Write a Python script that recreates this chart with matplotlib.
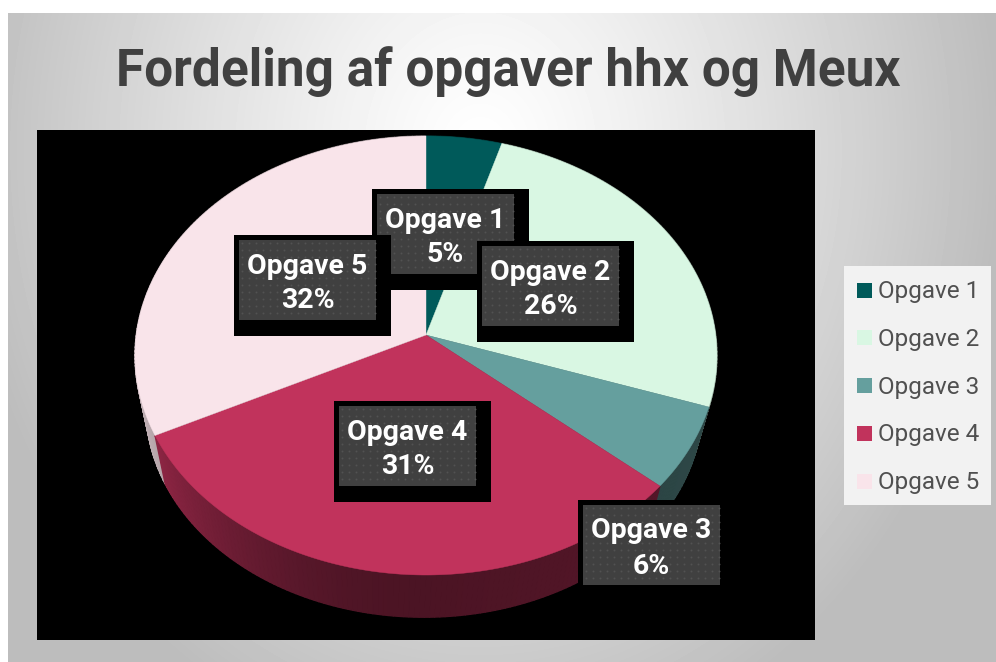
import matplotlib
matplotlib.use("Agg")
import matplotlib.pyplot as plt
import numpy as np
from matplotlib.patches import Polygon, Rectangle

plt.rcParams["font.family"] = ["Roboto", "Noto Sans", "DejaVu Sans"]

W, H = 996, 662

title = "Fordeling af opgaver hhx og Meux"
categories = ["Opgave 1", "Opgave 2", "Opgave 3", "Opgave 4", "Opgave 5"]
values = [4.6, 25.6, 6.1, 31.4, 32.3]
percent_labels = ["5%", "26%", "6%", "31%", "32%"]
colors = ["#005a5a", "#d9f7e3", "#659f9e", "#c1335c", "#f9e4ea"]

# left / top of the grey label boxes, in pixels
label_boxes = {"Opgave 1": (377, 194), "Opgave 5": (239, 240), "Opgave 2": (482, 246),
               "Opgave 4": (339, 406), "Opgave 3": (583, 505)}
BOX_W, BOX_H = 137, 80

# tilted pie: a circle seen with perspective, k moves the apex off the ellipse centre
CX, APEX_Y, RX, RY, K = 426, 335, 289.7, 217.6, 0.0934
CX2, APEX_Y2, RX2, RY2 = 424, 388, 276.7, 207.8


def project(theta, cx, cy, rx, ry):
    u, v = np.sin(theta), np.cos(theta)
    return cx + rx * u / (1 + K * v), cy - ry * v / (1 + K * v)


def wall_shade(theta):
    u = np.sin(theta)
    return 0.39 + 0.42 * max(0.0, -u) ** 2 + 0.06 * max(0.0, u)


fig = plt.figure(figsize=(W / 100, H / 100), dpi=100)
ax = fig.add_axes([0, 0, 1, 1])
ax.set_xlim(0, W)
ax.set_ylim(H, 0)
ax.axis("off")

# background gradient
yy, xx = np.mgrid[0:H, 0:W]
dist = np.hypot((xx - 480) / 520, (yy - 150) / 620)
grey = 1 - 0.26 * np.clip(dist, 0, 1) ** 1.2
bg = ax.imshow(grey, cmap="gray", vmin=0, vmax=1, extent=(0, W, H, 0), aspect="auto", zorder=0)
bg.set_clip_path(Rectangle((8, 13), W, H, transform=ax.transData))

ax.text(508, 72, title, ha="center", va="center", fontsize=37, fontweight="bold", color="#404040")

# plot area
ax.add_patch(Rectangle((37, 130), 778, 510, color="black", lw=0, zorder=1))

# angles of the slices, clockwise from the top
fractions = np.array(values) / sum(values)
edges = 2 * np.pi * np.concatenate([[0], np.cumsum(fractions)])

# side wall first, back to front
strips = []
for i, color in enumerate(colors):
    steps = np.linspace(edges[i], edges[i + 1], max(int((edges[i + 1] - edges[i]) * 60), 2))
    for a, b in zip(steps[:-1], steps[1:]):
        strips.append((np.cos((a + b) / 2), a, b, color))
strips.sort(key=lambda s: -s[0])
for _, a, b, color in strips:
    x0, y0 = project(a, CX, APEX_Y, RX, RY)
    x1, y1 = project(b, CX, APEX_Y, RX, RY)
    x2, y2 = project(b, CX2, APEX_Y2, RX2, RY2)
    x3, y3 = project(a, CX2, APEX_Y2, RX2, RY2)
    rgb = np.array(matplotlib.colors.to_rgb(color)) * wall_shade((a + b) / 2)
    ax.add_patch(Polygon([(x0, y0), (x1, y1), (x2, y2), (x3, y3)], closed=True,
                         facecolor=rgb, edgecolor=rgb, lw=1.0, zorder=2))

# top faces
for i, color in enumerate(colors):
    t = np.linspace(edges[i], edges[i + 1], 200)
    px, py = project(t, CX, APEX_Y, RX, RY)
    pts = [(CX, APEX_Y)] + list(zip(px, py))
    ax.add_patch(Polygon(pts, closed=True, facecolor=color, edgecolor=color, lw=0.3, zorder=3))

# data labels, each one paints over the one before
for n, name in enumerate(label_boxes):
    bx, by = label_boxes[name]
    z = 4 + n
    ax.add_patch(Rectangle((bx - 5, by - 5), BOX_W + 20, BOX_H + 21, color="black", lw=0, zorder=z))
    ax.add_patch(Rectangle((bx, by), BOX_W, BOX_H, color="#404040", lw=0, zorder=z))
    dx = np.arange(bx + 3, bx + BOX_W, 7.0)
    dy = np.arange(by + 3, by + BOX_H, 7.0)
    gx, gy = np.meshgrid(dx, dy)
    ax.scatter(gx.ravel(), gy.ravel(), s=2.0, color="#525252", lw=0, zorder=z)
    pct = percent_labels[categories.index(name)]
    ax.text(bx + BOX_W / 2, by + 26, name, ha="center", va="center", fontsize=20.4,
            fontweight="bold", color="white", zorder=z)
    ax.text(bx + BOX_W / 2, by + 61, pct, ha="center", va="center", fontsize=20.4,
            fontweight="bold", color="white", zorder=z)

# legend
ax.add_patch(Rectangle((844, 266), 147, 239, color="#f2f2f2", lw=0, zorder=2))
for i, (name, color) in enumerate(zip(categories, colors)):
    y = 290 + i * 47.8
    ax.add_patch(Rectangle((857, y - 7.5), 15, 15, color=color, lw=0, zorder=3))
    ax.text(878, y + 1.5, name, ha="left", va="center", fontsize=17.5, color="#505050", zorder=3)

fig.savefig("out.png", dpi=100)
